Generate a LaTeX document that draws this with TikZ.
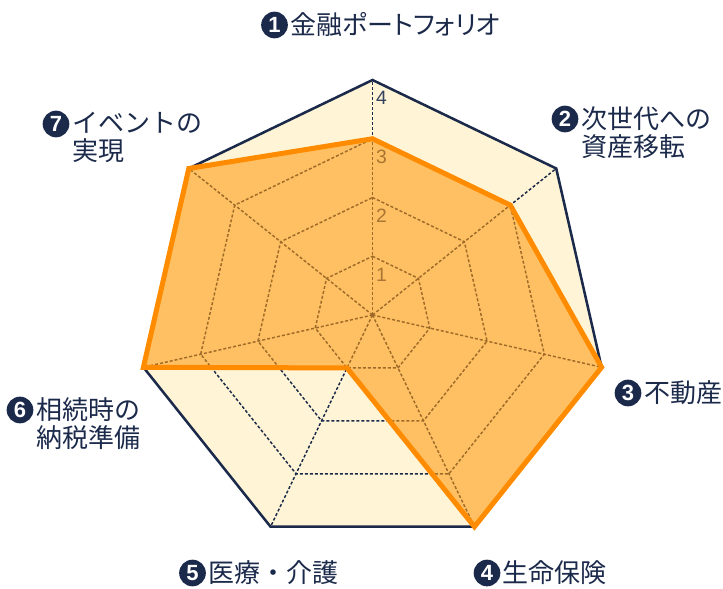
\documentclass[tikz,border=0pt]{standalone}
\usepackage{fontspec}
\newfontfamily\jp{Noto Sans CJK JP}
\newfontfamily\jpp[RawFeature=+palt]{Noto Sans CJK JP}
\newfontfamily\numf{Liberation Sans}
\definecolor{navy}{HTML}{1B2A4A}
\definecolor{tickc}{HTML}{34425E}
\definecolor{cream}{HTML}{FFF5D6}
\definecolor{orng}{HTML}{FF8C00}
\definecolor{ofill}{HTML}{FF9A10}
\begin{document}
\begin{tikzpicture}[x=0.75pt,y=-0.75pt,
  gridline/.style={navy, line width=1.1pt, dash pattern=on 2.25pt off 1.5pt},
  numc/.style={circle, fill=navy, text=white, minimum size=20pt, inner sep=0pt, font=\numf\bfseries\fontsize{16.5}{16.5}\selectfont},
  lbl/.style={text=navy, inner sep=0pt, anchor=west, align=left, font=\jp\fontsize{19.5}{21}\selectfont},
  tick/.style={text=tickc, inner sep=0pt, font=\numf\fontsize{14.5}{14.5}\selectfont}]
\useasboundingbox (0,0) rectangle (723,588);
\coordinate (c) at (372.5,315);
\foreach \k in {0,...,6} {
  \coordinate (v\k) at ({372.5+235*cos(-90+\k*360/7)},{315+235*sin(-90+\k*360/7)});
  \foreach \l in {1,2,3} {
    \coordinate (g\l-\k) at ({372.5+58.75*\l*cos(-90+\k*360/7)},{315+58.75*\l*sin(-90+\k*360/7)});
  }
}
\foreach \k/\v in {0/3,1/3,2/4,3/4,4/1,5/4,6/4} {
  \coordinate (p\k) at ({372.5+58.75*\v*cos(-90+\k*360/7)},{315+58.75*\v*sin(-90+\k*360/7)});
}
% background
\fill[cream] (v0) -- (v1) -- (v2) -- (v3) -- (v4) -- (v5) -- (v6) -- cycle;
% grid
\foreach \l in {1,2,3} {
  \draw[gridline] (g\l-0) -- (g\l-1) -- (g\l-2) -- (g\l-3) -- (g\l-4) -- (g\l-5) -- (g\l-6) -- cycle;
}
\foreach \k in {0,...,6} { \draw[gridline] (c) -- (v\k); }
\fill[navy] (c) circle (1.6pt);
% ticks
\node[tick] (k1) at (381.5,274.5) {1};
\node[tick] (k2) at (381.5,215.5) {2};
\node[tick] (k3) at (381.5,156.5) {3};
\node[tick] (k4) at (381.5,98) {4};
% data polygon
\fill[ofill, fill opacity=0.58] (p0) -- (p1) -- (p2) -- (p3) -- (p4) -- (p5) -- (p6) -- cycle;
\draw[navy, line width=1.9pt, line join=miter] (v0) -- (v1) -- (v2) -- (v3) -- (v4) -- (v5) -- (v6) -- cycle;
\draw[orng, line width=3.75pt, line join=miter] (p0) -- (p1) -- (p2) -- (p3) -- (p4) -- (p5) -- (p6) -- cycle;
% labels
\node[numc] (n1) at (274.5,25) {1};
\node[lbl, font=\jpp\fontsize{19.5}{21}\selectfont] (t1) at (290,25) {金融ポートフォリオ};
\node[numc] (n2) at (565,119) {2};
\node[lbl] (t2) at (581,132.5) {次世代への\\資産移転};
\node[numc] (n3) at (628,393) {3};
\node[lbl] (t3) at (644,393) {不動産};
\node[numc] (n4) at (487,573) {4};
\node[lbl] (t4) at (502,573) {生命保険};
\node[numc] (n5) at (192.5,573) {5};
\node[lbl] (t5) at (208,573) {医療・介護};
\node[numc] (n6) at (20,410) {6};
\node[lbl] (t6) at (36,423.5) {相続時の\\納税準備};
\node[numc] (n7) at (56,124) {7};
\node[lbl] (t7) at (72,137.5) {イベントの\\実現};
\end{tikzpicture}
\end{document}
